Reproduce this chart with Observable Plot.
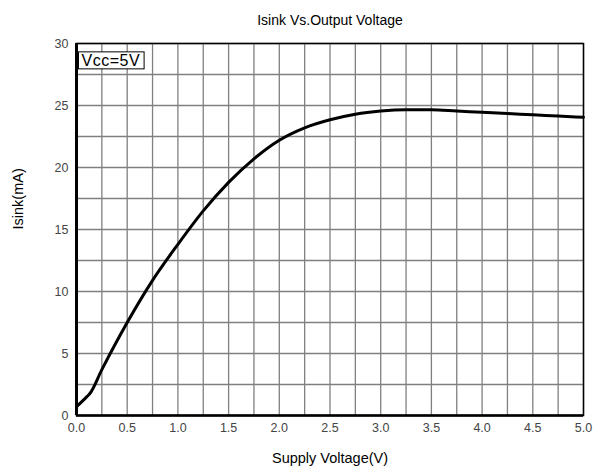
<!DOCTYPE html>
<html><head><meta charset="utf-8">
<script src="https://cdn.jsdelivr.net/npm/d3@7"></script>
<script src="https://cdn.jsdelivr.net/npm/@observablehq/plot@0.6"></script>
<style>
body{margin:0;background:#fff;}
svg{font-family:"Liberation Sans",Arial,sans-serif;}
</style>
</head><body><div id="chart"></div>
<script>
const voltage = [0, 0.1, 0.13, 0.25, 0.5, 0.75, 1.0, 1.25, 1.5, 1.75, 2.0, 2.25, 2.5, 2.75, 3.0, 3.25, 3.5, 3.75, 4.0, 4.25, 4.5, 4.75, 5.0];
const isink   = [0.7, 1.5, 1.75, 3.7, 7.5, 10.9, 13.8, 16.5, 18.8, 20.7, 22.2, 23.2, 23.85, 24.3, 24.55, 24.65, 24.65, 24.55, 24.45, 24.35, 24.25, 24.15, 24.05];
const xTicks = [0, 0.5, 1, 1.5, 2, 2.5, 3, 3.5, 4, 4.5, 5];
const yTicks = [0, 5, 10, 15, 20, 25, 30];
const xGrid = d3.range(0, 21).map(i => i * 0.25);
const yGrid = d3.range(0, 13).map(i => i * 2.5);
const title = "Isink Vs.Output Voltage";
const xLabel = "Supply Voltage(V)";
const yLabel = "Isink(mA)";
const note = "Vcc=5V";

const data = voltage.map((v, i) => ({v, i: isink[i]}));

const chart = Plot.plot({
  width: 599, height: 472,
  marginLeft: 76, marginRight: 16, marginTop: 43, marginBottom: 57,
  style: {fontFamily: "Liberation Sans, Arial, sans-serif", background: "#fff"},
  x: {domain: [0, 5], label: null},
  y: {domain: [0, 30], label: null},
  marks: [
    Plot.ruleX(xGrid, {stroke: "#808080", strokeWidth: 1.3}),
    Plot.ruleY(yGrid, {stroke: "#808080", strokeWidth: 1.3}),
    Plot.frame({stroke: "#000", strokeWidth: 1.5}),
    Plot.ruleX([0], {stroke: "#000", strokeWidth: 3}),
    Plot.ruleY([0], {stroke: "#000", strokeWidth: 2.5}),
    Plot.axisX({ticks: xTicks, tickSize: 0, tickPadding: 8, tickFormat: d3.format(".1f"), fill: "#444", fontSize: 12.5, label: null}),
    Plot.axisY({ticks: yTicks, tickSize: 0, tickPadding: 8, fill: "#444", fontSize: 12.5, label: null}),
    Plot.line(data, {x: "v", y: "i", stroke: "#000", strokeWidth: 3, curve: "monotone-x"}),
    Plot.text([note], {frameAnchor: "top-left", dx: 5, dy: 11, fontSize: 16, fill: "#000", textAnchor: "start", className: "note"}),
    Plot.text([title], {frameAnchor: "top", dy: -28, fontSize: 14, fill: "#000"}),
    Plot.text([xLabel], {frameAnchor: "bottom", dy: 47, fontSize: 14.5, fill: "#000"}),
    Plot.text([yLabel], {frameAnchor: "left", dx: -58, rotate: -90, fontSize: 14.5, fill: "#000"})
  ]
});
document.getElementById("chart").appendChild(chart);
// box around the Vcc note
const noteText = chart.querySelector(".note text");
if (noteText) {
  noteText.style.letterSpacing = "0.5px";
  const sb = chart.getBoundingClientRect();
  const b = noteText.getBoundingClientRect();
  const r = document.createElementNS("http://www.w3.org/2000/svg", "rect");
  r.setAttribute("x", b.left - sb.left - 3); r.setAttribute("y", b.top - sb.top);
  r.setAttribute("width", b.width + 7); r.setAttribute("height", b.height);
  r.setAttribute("fill", "#fff"); r.setAttribute("stroke", "#000"); r.setAttribute("stroke-width", 1);
  const g = noteText.parentNode;
  g.parentNode.insertBefore(r, g);
}
</script>
</body></html>
